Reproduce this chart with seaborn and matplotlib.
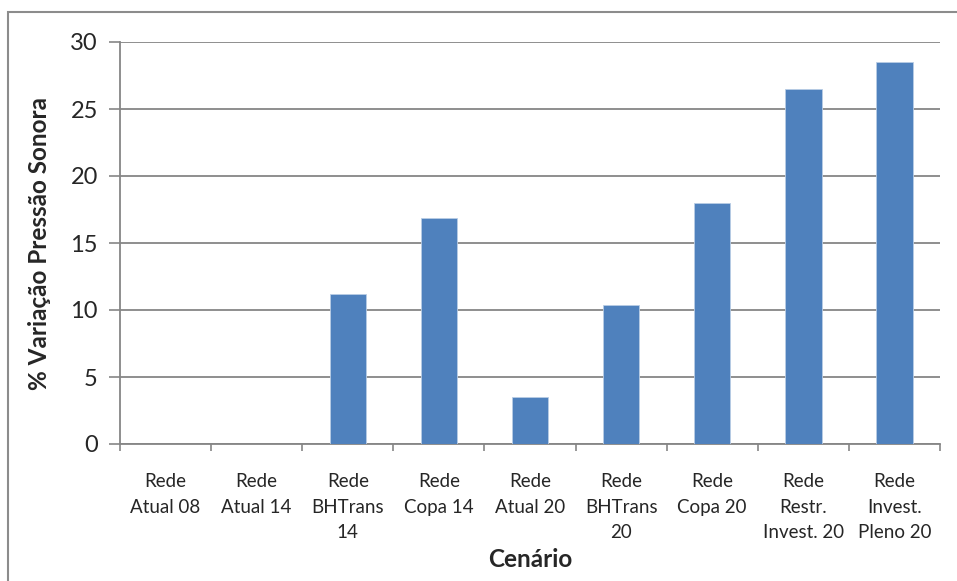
import matplotlib
matplotlib.use("Agg")
import matplotlib.pyplot as plt
import matplotlib.patches as mpatches
import seaborn as sns
import pandas as pd

categories = [
    "Rede\nAtual 08", "Rede\nAtual 14", "Rede\nBHTrans\n14", "Rede\nCopa 14",
    "Rede\nAtual 20", "Rede\nBHTrans\n20", "Rede\nCopa 20",
    "Rede\nRestr.\nInvest. 20", "Rede\nInvest.\nPleno 20",
]
values = [0, 0, 11.2, 16.9, 3.5, 10.4, 18.0, 26.5, 28.5]
y_ticks = [0, 5, 10, 15, 20, 25, 30]

sns.set_style("white")
plt.rcParams["font.family"] = ["Lato", "DejaVu Sans"]

W, H = 957, 581
fig = plt.figure(figsize=(W / 100, H / 100), dpi=100)
ax = fig.add_axes([120 / W, (H - 444) / H, 820 / W, 402 / H])

df = pd.DataFrame({"cenario": categories, "valor": values})
sns.barplot(data=df, x="cenario", y="valor", color="#4F81BD", width=0.4,
            edgecolor="#B9CDE5", linewidth=0.6, saturation=1, ax=ax, zorder=3)

grid_c = "#868686"
ax.set_ylim(0, 30)
ax.set_xlim(-0.5, len(categories) - 0.5)
ax.set_yticks(y_ticks)
ax.yaxis.grid(True, color=grid_c, linewidth=1.3, zorder=0)
ax.set_axisbelow(True)
ax.tick_params(axis="y", direction="out", length=8, width=1.2, color=grid_c,
               labelsize=17, pad=8, left=True)

# category boundaries carry the tick marks, centres carry the labels
ax.set_xticks([i - 0.5 for i in range(len(categories) + 1)])
ax.set_xticklabels([])
ax.set_xticks(range(len(categories)), minor=True)
ax.set_xticklabels(categories, minor=True, fontsize=13.5, va="top",
                   linespacing=1.6)
ax.tick_params(axis="x", which="major", direction="out", length=5, width=1.2,
               color=grid_c, bottom=True)
ax.tick_params(axis="x", which="minor", length=0, pad=21)

for s in ["top", "right"]:
    ax.spines[s].set_visible(False)
for s in ["left", "bottom"]:
    ax.spines[s].set_color(grid_c)
    ax.spines[s].set_linewidth(1.3)

ax.set_xlabel("Cenário", fontsize=17.5, fontweight="bold", labelpad=5)
ax.set_ylabel("% Variação Pressão Sonora", fontsize=17.5, fontweight="bold",
              labelpad=14)

border = mpatches.Rectangle((8 / W, -0.1), 1.5, 1 - 12 / H + 0.1,
                            transform=fig.transFigure, fill=False,
                            edgecolor="#8C8C8C", linewidth=1.5)
fig.patches.append(border)

fig.savefig("out.png", dpi=100)
